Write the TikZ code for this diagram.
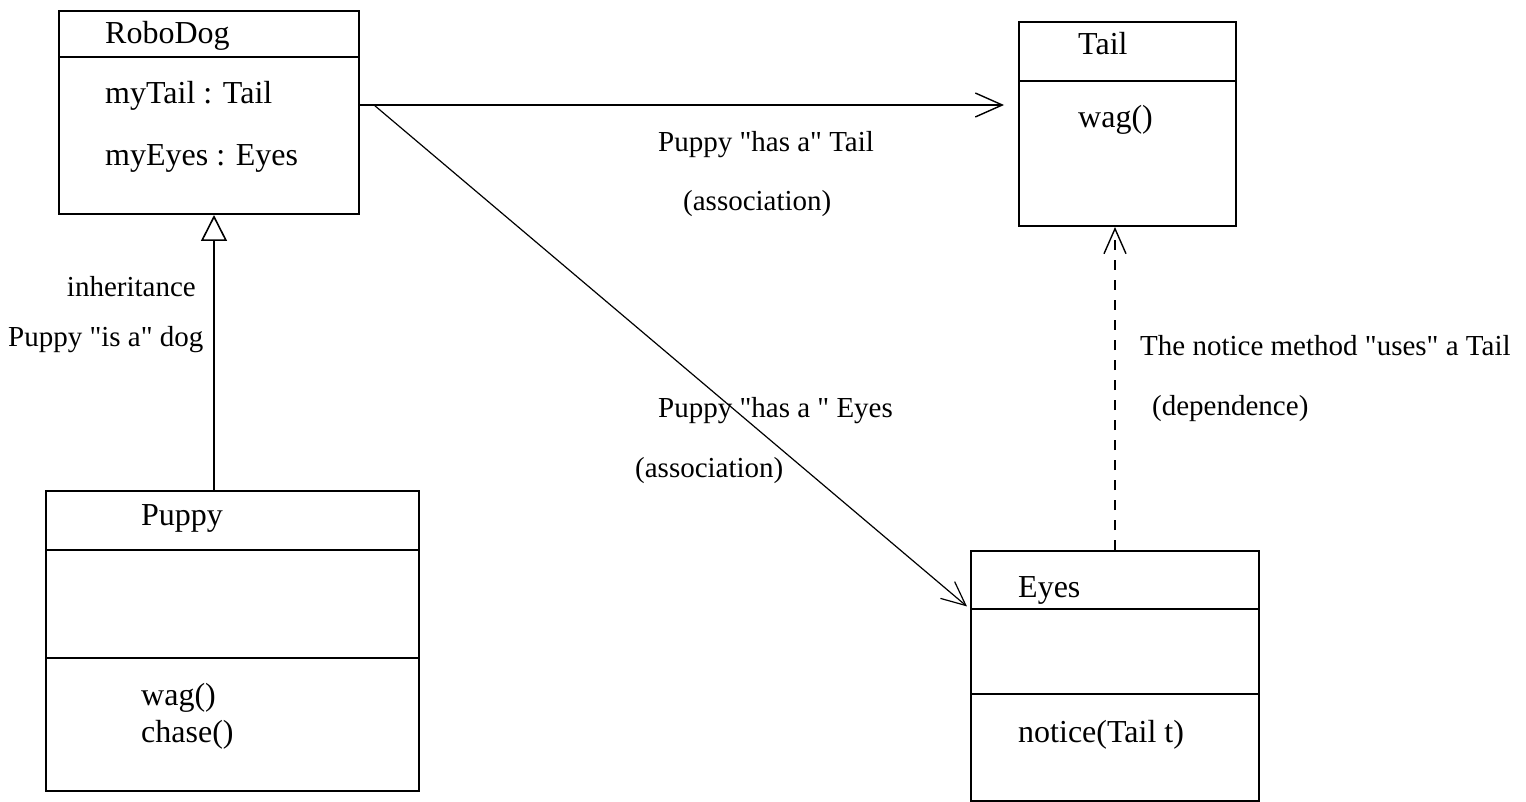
\documentclass[tikz,border=0pt]{standalone}
\usepackage{fontspec}
\setmainfont{Liberation Serif}
\newfontfamily\lserif{Liberation Serif}
\usetikzlibrary{arrows.meta}
\begin{document}
\begin{tikzpicture}[x=1pt,y=-1pt,
  umlbox/.style={draw, line width=2pt, inner sep=0pt, anchor=north west},
  boxtext/.style={anchor=base west, inner sep=0pt, font=\lserif\fontsize{32}{38}\selectfont},
  lbl/.style={anchor=base west, inner sep=0pt, font=\lserif\fontsize{29}{34}\selectfont},
  lblr/.style={anchor=base east, inner sep=0pt, font=\lserif\fontsize{29}{34}\selectfont},
  sepline/.style={line width=2pt},
  inherit/.style={line width=2pt, -{Triangle[open, length=26pt, width=26pt, line width=1.6pt]}},
  assoc/.style={line width=1.6pt, -{Straight Barb[length=27pt, width=24pt, line width=1.4pt]}},
  assocthin/.style={line width=1.2pt, -{Straight Barb[length=24pt, width=22pt, line width=1.2pt]}},
  depend/.style={line width=2pt, dash pattern=on 10pt off 10pt, -{Straight Barb[length=25pt, width=22pt, line width=1.4pt]}}
]
\useasboundingbox (0,0) rectangle (1526,802);
\fill[white] (0,0) rectangle (1526,802);

% class boxes
\node[umlbox, minimum width=300pt, minimum height=203pt] (robo) at (58,10) {};
\node[umlbox, minimum width=373pt, minimum height=300pt] (puppy) at (45,490) {};
\node[umlbox, minimum width=217pt, minimum height=204pt] (tail) at (1018,21) {};
\node[umlbox, minimum width=288pt, minimum height=250pt] (eyes) at (970,550) {};

% compartment separators
\draw[sepline] (robo.west |- 0,57) -- (robo.east |- 0,57);
\draw[sepline] (puppy.west |- 0,550) -- (puppy.east |- 0,550);
\draw[sepline] (puppy.west |- 0,658) -- (puppy.east |- 0,658);
\draw[sepline] (tail.west |- 0,81) -- (tail.east |- 0,81);
\draw[sepline] (eyes.west |- 0,609) -- (eyes.east |- 0,609);
\draw[sepline] (eyes.west |- 0,694) -- (eyes.east |- 0,694);

% box texts
\node[boxtext] (roboName) at (105,44) {RoboDog};
\node[boxtext] (roboA1) at (105,104) {myTail : Tail};
\node[boxtext] (roboA2) at (105,166) {myEyes : Eyes};
\node[boxtext] (puppyName) at (141,525) {Puppy};
\node[boxtext] (puppyM1) at (141,705) {wag()};
\node[boxtext] (puppyM2) at (141,742) {chase()};
\node[boxtext] (tailName) at (1078,55) {Tail};
\node[boxtext] (tailM1) at (1078,128) {wag()};
\node[boxtext] (eyesName) at (1018,597) {Eyes};
\node[boxtext] (eyesM1) at (1018,742) {notice(Tail t)};

% connector helper coordinates
\coordinate (hy) at (0,105);
\coordinate (ehdr) at (0,609);
\coordinate (inhx) at (214,0);
\coordinate (depx) at (1115,0);

% connectors
\draw[inherit] (puppy.north -| inhx) -- (robo.south -| inhx);
\draw[assoc, shorten >=14pt] (robo.east |- hy) -- (tail.west |- hy);
\draw[assocthin, shorten >=4pt] (robo.east |- hy) -- ++(14,0) -- (eyes.west |- ehdr);
\draw[depend] (eyes.north -| depx) -- (tail.south -| depx);

% labels
\node[lblr] (lInh) at (196,297) {inheritance};
\node[lbl] (lIsA) at (8,346) {Puppy "is a" dog};
\node[lbl] (lHasTail) at (658,152) {Puppy "has a" Tail};
\node[lbl] (lAssoc1) at (683,211) {(association)};
\node[lbl] (lHasEyes) at (658,417) {Puppy "has a " Eyes};
\node[lbl] (lAssoc2) at (635,477) {(association)};
\node[lbl] (lUses) at (1140,355) {The notice method "uses" a Tail};
\node[lbl] (lDep) at (1152,415) {(dependence)};
\end{tikzpicture}
\end{document}
